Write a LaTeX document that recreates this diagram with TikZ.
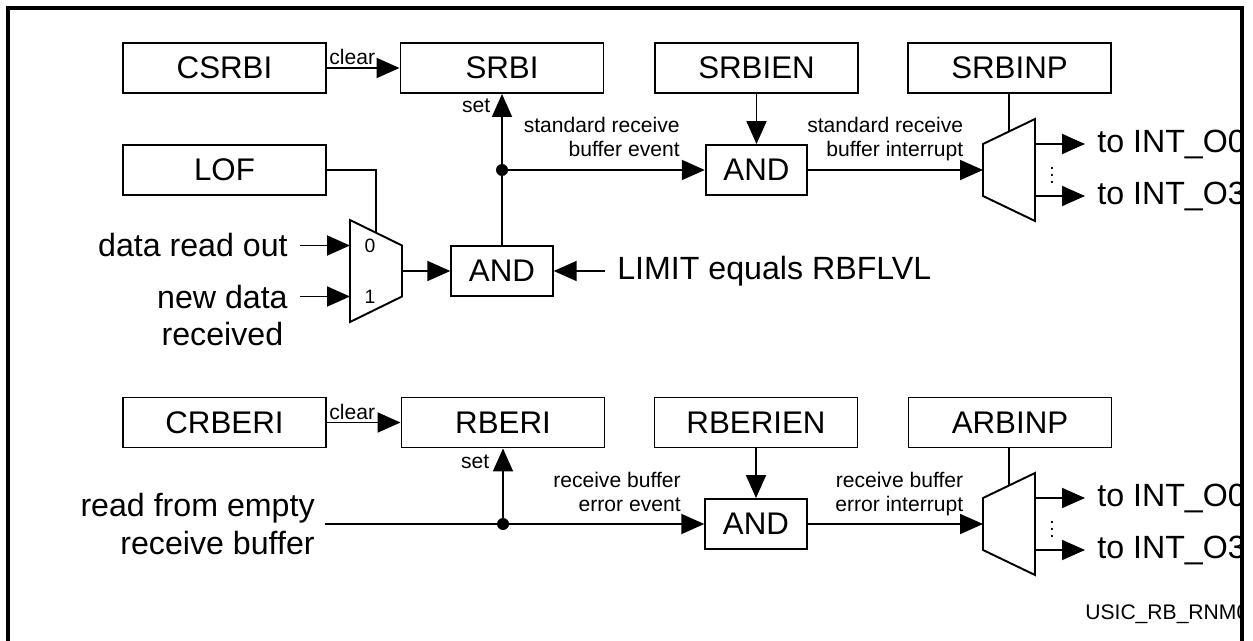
\documentclass[tikz,border=0pt]{standalone}
\usepackage{fontspec}
\setmainfont{Liberation Sans}
\usetikzlibrary{arrows.meta,positioning,calc}

\begin{document}
\begin{tikzpicture}[
  reg/.style={draw, line width=1.1pt, minimum width=4.06cm, minimum height=1.0cm, inner sep=0pt, font=\fontsize{17.8}{21}\selectfont},
  gate/.style={reg, minimum width=2.03cm},
  sig/.style={inner xsep=0.24cm, inner ysep=0pt, align=center, font=\fontsize{18.3}{21.6}\selectfont},
  note/.style={inner sep=0pt, align=right, text depth=0pt, font=\fontsize{12}{14}\selectfont},
  wire/.style={line width=1.1pt},
  arr/.style={wire, -{Triangle[length=4.6mm, width=4.0mm]}},
  muxbody/.style={wire, line join=miter},
  junction/.style={circle, fill, inner sep=0pt, minimum size=0.24cm},
  selno/.style={inner sep=0pt, font=\fontsize{11}{12}\selectfont},
  dots/.style={inner sep=0pt, font=\fontsize{11}{12}\selectfont}
]
\useasboundingbox (0,0) rectangle (25.06,-12.82);

% standard receive buffer event
\node[reg] (csrbi) at (4.49,-1.36) {CSRBI};
\node[reg] (srbi) at (10.04,-1.36) {SRBI};
\node[reg] (srbien) at (15.13,-1.36) {SRBIEN};
\node[reg] (srbinp) at (20.19,-1.36) {SRBINP};
\node[reg] (lof) at (4.49,-3.40) {LOF};

\node[gate] (and1) at (10.04,-5.42) {AND};
\node[gate] (and2) at (15.13,-3.40) {AND};
\node[junction] (dot1) at (10.04,-3.40) {};

% input multiplexer
\coordinate (mux1in0) at (7.00,-4.91);
\coordinate (mux1in1) at (7.00,-5.93);
\coordinate (mux1out) at (8.04,-5.42);
\coordinate (mux1sel) at (7.52,-4.655);
\draw[muxbody] (7.00,-4.40) -- (8.04,-4.91) -- (8.04,-5.93) -- (7.00,-6.44) -- cycle;
\node[selno] (mux1zero) at (7.40,-4.91) {0};
\node[selno] (mux1one) at (7.40,-5.93) {1};

\node[sig, anchor=east] (readout) at (6.00,-4.91) {data read out};
\node[sig, anchor=east] (newdata) at (6.00,-6.31) {new data\\received};
\node[sig, anchor=west] (limit) at (12.10,-5.42) {LIMIT equals RBFLVL};

\draw[arr] (csrbi) -- (srbi);
\node[note, anchor=base west] (clear1) at (6.58,-1.29) {clear};
\draw[wire] (lof.east) -| (mux1sel);
\draw[arr] (readout.east) -- (mux1in0);
\draw[arr] (newdata.east |- mux1in1) -- (mux1in1);
\draw[arr] (mux1out) -- (and1.west);
\draw[arr] (limit.west) -- (and1.east);
\draw[arr] (and1.north) -- (srbi.south);
\node[note, anchor=base east] (set1) at (9.81,-2.26) {set};
\draw[arr] (dot1) -- (and2.west);
\draw[arr] (srbien) -- (and2);
\node[note, anchor=south east] (srbevent) at (13.60,-3.14) {standard receive\\buffer event};

% interrupt node pointer demux
\coordinate (dmx1in) at (19.66,-3.40);
\coordinate (dmx1out0) at (20.70,-2.88);
\coordinate (dmx1out3) at (20.70,-3.92);
\coordinate (dmx1sel) at (20.18,-2.63);
\draw[muxbody] (19.66,-2.88) -- (20.70,-2.38) -- (20.70,-4.42) -- (19.66,-3.92) -- cycle;
\draw[arr] (and2.east) -- (dmx1in);
\node[note, anchor=south east] (srbint) at (19.27,-3.14) {standard receive\\buffer interrupt};
\draw[wire] (dmx1sel |- srbinp.south) -- (dmx1sel);
\node[dots] (dmx1dots) at (21.04,-3.40) {$\vdots$};

% receive buffer error event
\node[reg] (crberi) at (4.49,-8.45) {CRBERI};
\node[reg] (rberi) at (10.06,-8.45) {RBERI};
\node[reg] (rberien) at (15.12,-8.45) {RBERIEN};
\node[reg] (arbinp) at (20.20,-8.45) {ARBINP};

\node[gate] (and3) at (15.12,-10.48) {AND};
\node[junction] (dot2) at (10.06,-10.48) {};
\node[sig, anchor=east, align=right, inner xsep=0.2cm] (rdempty) at (6.50,-10.48) {read from empty\\receive buffer};

\draw[arr] (crberi) -- (rberi);
\node[note, anchor=base west] (clear2) at (6.58,-8.38) {clear};
\draw[wire] (rdempty.east) -- (dot2);
\draw[arr] (dot2) -- (rberi.south);
\node[note, anchor=base east] (set2) at (9.79,-9.36) {set};
\draw[arr] (dot2) -- (and3.west);
\draw[arr] (rberien) -- (and3);
\node[note, anchor=south east] (rbeevent) at (13.62,-10.24) {receive buffer\\error event};

\coordinate (dmx2in) at (19.66,-10.48);
\coordinate (dmx2out0) at (20.70,-9.96);
\coordinate (dmx2out3) at (20.70,-11.00);
\coordinate (dmx2sel) at (20.18,-9.71);
\draw[muxbody] (19.66,-9.96) -- (20.70,-9.46) -- (20.70,-11.50) -- (19.66,-11.00) -- cycle;
\draw[arr] (and3.east) -- (dmx2in);
\node[note, anchor=south east] (rbeint) at (19.27,-10.24) {receive buffer\\error interrupt};
\draw[wire] (dmx2sel |- arbinp.south) -- (dmx2sel);
\node[dots] (dmx2dots) at (21.04,-10.48) {$\vdots$};

% outputs, cut off by the frame
\begin{scope}
  \clip (0,0) rectangle (24.84,-12.82);
  \node[sig, anchor=west] (int1o0) at (21.70,-2.88) {to INT\_O0};
  \node[sig, anchor=west] (int1o3) at (21.70,-3.92) {to INT\_O3};
  \node[sig, anchor=west] (int2o0) at (21.70,-9.96) {to INT\_O0};
  \node[sig, anchor=west] (int2o3) at (21.70,-11.00) {to INT\_O3};
  \node[note, anchor=west] (figid) at (21.70,-12.24) {USIC\_RB\_RNM0};
\end{scope}
\draw[arr] (dmx1out0) -- (int1o0.west);
\draw[arr] (dmx1out3) -- (int1o3.west);
\draw[arr] (dmx2out0) -- (int2o0.west);
\draw[arr] (dmx2out3) -- (int2o3.west);

% frame
\draw[line width=1.9pt] (0.16,-12.82) -- (0.16,-0.16) -- (24.84,-0.16) -- (24.84,-12.82);
\end{tikzpicture}
\end{document}
